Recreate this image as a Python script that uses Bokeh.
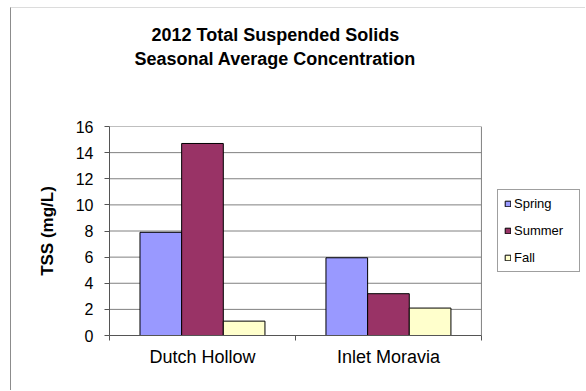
from bokeh.plotting import figure
from bokeh.models import ColumnDataSource, FixedTicker, Legend, LegendItem, Title, Range1d
from bokeh.embed import file_html
from bokeh.resources import INLINE

# Seasonal average TSS (mg/L) per sampling site
sites = ["Dutch Hollow", "Inlet Moravia"]
seasons = ["Spring", "Summer", "Fall"]
spring = [7.9, 5.95]
summer = [14.7, 3.2]
fall = [1.1, 2.1]
colors = ["#9999FF", "#993366", "#FFFFCC"]
y_ticks = [0, 2, 4, 6, 8, 10, 12, 14, 16]

FONT = "Liberation Sans"
bar_w = 0.224
n = len(sites)
x_end = 2.565          # extra room right of the categories holds the legend
y_top = y_ticks[-1]

p = figure(
    width=575, height=383,
    x_range=Range1d(0, x_end), y_range=Range1d(0, y_top),
    output_backend="svg", toolbar_location=None,
    min_border_left=98, min_border_top=118, min_border_right=0, min_border_bottom=56,
)
# chart-area frame: thin lines along the top and left edges
p.styles = {
    "margin-left": "10px", "margin-top": "7px",
    "border-left": "1px solid #8c8c8c", "border-top": "1px solid #dcdcdc",
}

# Title panels, stacked outward from the plot area: spacer, line 2, line 1
title_kw = dict(align="left", text_font=FONT, text_font_size="18px",
                text_font_style="bold", text_color="#000000", standoff=2)
p.add_layout(Title(text=" ", text_font_size="1px", standoff=54), "above")
p.add_layout(Title(text="Seasonal Average Concentration", offset=25, **title_kw), "above")
p.add_layout(Title(text="2012 Total Suspended Solids", offset=42, **title_kw), "above")

# Plot-area grid lines and right border, limited to the category span
p.segment(x0=[0] * len(y_ticks), x1=[n] * len(y_ticks), y0=y_ticks, y1=y_ticks,
          line_color="#808080", line_width=1)
p.segment(x0=[n], x1=[n], y0=[0], y1=[y_top], line_color="#808080", line_width=1)

centers = [i + 0.5 for i in range(n)]
series = [spring, summer, fall]
renderers = []
for k, (vals, col) in enumerate(zip(series, colors)):
    src = ColumnDataSource(dict(x=[c + (k - 1) * bar_w for c in centers], top=vals))
    r = p.vbar(x="x", top="top", bottom=0, width=bar_w, source=src,
               fill_color=col, line_color="#000000", line_width=1)
    renderers.append(r)

# Category axis: labels centred under each group, ticks on the group boundaries
p.xaxis.bounds = (0, n)
p.xaxis.ticker = FixedTicker(ticks=centers, minor_ticks=list(range(n + 1)))
p.xaxis.major_label_overrides = {c: s for c, s in zip(centers, sites)}
p.xaxis.major_tick_out = 0
p.xaxis.major_tick_in = 0
p.xaxis.minor_tick_out = 5
p.xaxis.minor_tick_in = 0
p.xaxis.major_label_standoff = 6
p.xaxis.major_label_text_font = FONT
p.xaxis.major_label_text_font_size = "18px"
p.xaxis.major_label_text_color = "#000000"

p.yaxis.bounds = (0, y_top)
p.yaxis.ticker = FixedTicker(ticks=y_ticks)
p.yaxis.major_tick_out = 5
p.yaxis.major_tick_in = 0
p.yaxis.minor_tick_line_color = None
p.yaxis.major_label_standoff = 11
p.yaxis.major_label_text_font = FONT
p.yaxis.major_label_text_font_size = "16px"
p.yaxis.major_label_text_color = "#000000"
p.yaxis.axis_label = "TSS (mg/L)"
p.yaxis.axis_label_text_font = FONT
p.yaxis.axis_label_text_font_size = "17px"
p.yaxis.axis_label_text_font_style = "bold"
p.yaxis.axis_label_text_color = "#000000"
p.yaxis.axis_label_standoff = 16

p.xaxis.axis_line_color = "#555555"
p.xaxis.minor_tick_line_color = "#555555"
p.yaxis.axis_line_color = "#555555"
p.yaxis.major_tick_line_color = "#555555"

p.xgrid.grid_line_color = None
p.ygrid.grid_line_color = None
p.outline_line_color = None

legend = Legend(
    items=[LegendItem(label=s, renderers=[r]) for s, r in zip(seasons, renderers)],
    location=(388, 63), margin=0, padding=6,
    glyph_width=7, glyph_height=7, label_height=15, label_width=59,
    spacing=12, label_standoff=3,
    label_text_font=FONT, label_text_font_size="13px", label_text_color="#000000",
    border_line_color="#404040", border_line_width=1,
    background_fill_color="#ffffff",
)
p.add_layout(legend)

p.background_fill_color = "#ffffff"
p.border_fill_color = "#ffffff"

open("out.html", "w").write(file_html(p, INLINE))
